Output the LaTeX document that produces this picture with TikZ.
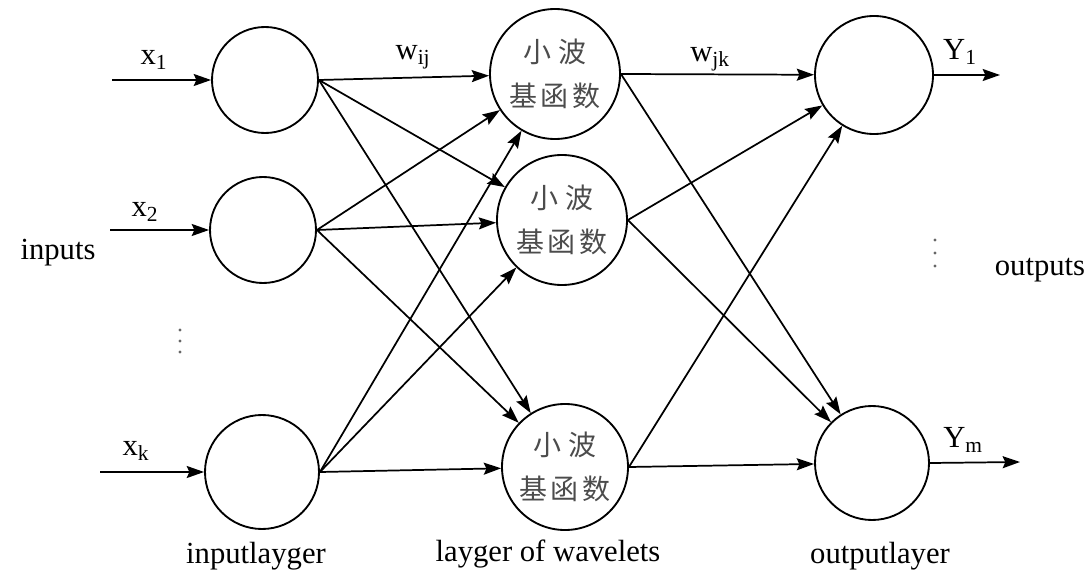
\documentclass[tikz,border=0pt]{standalone}
\usepackage{fontspec}
\setmainfont{Liberation Serif}
\newfontfamily\cjk{Noto Sans CJK SC}
\usetikzlibrary{arrows.meta}
\newcommand{\cj}[1]{#1\kern2.5pt}
\tikzset{
  neuron/.style={circle,draw=black,line width=1.4pt,inner sep=0pt,fill=white},
  conn/.style={line width=1.3pt,-{Stealth[length=13pt,width=9pt,inset=2pt]}},
  lbl/.style={inner sep=0pt,font=\fontsize{23}{27}\selectfont},
  wtxt/.style={align=center,font=\cjk\fontsize{21}{33}\selectfont,text=black!70},
  dot/.style={circle,fill=black!60,inner sep=0pt,minimum size=2.6pt}
}
\begin{document}
\begin{tikzpicture}[x=0.75pt,y=-0.75pt]
\fill[white] (0,0) rectangle (1092,581);
\useasboundingbox (0,0) rectangle (1092,581);
% input layer
\node[neuron,minimum size=79.5pt] (I1) at (265,80) {};
\node[neuron,minimum size=79.5pt] (I2) at (263,230) {};
\node[neuron,minimum size=85.5pt] (I3) at (262,472) {};
% wavelet layer
\node[neuron,minimum size=97.5pt,wtxt] (W1) at (555,74) {小\kern5pt 波\\基\kern3pt 函\kern3pt 数};
\node[neuron,minimum size=97.5pt,wtxt] (W2) at (562,220) {小\kern5pt 波\\基\kern3pt 函\kern3pt 数};
\node[neuron,minimum size=94.5pt,wtxt] (W3) at (565,467) {小\kern5pt 波\\基\kern3pt 函\kern3pt 数};
% output layer
\node[neuron,minimum size=88.5pt] (O1) at (874,75) {};
\node[neuron,minimum size=85.5pt] (O2) at (872,463) {};
% free ends
\coordinate (a1) at (112,80);
\coordinate (a2) at (110,230);
\coordinate (a3) at (100,472);
\coordinate (b1) at (1000,75);
\coordinate (b2) at (1020,462);
% input arrows
\draw[conn] (a1) -- (I1.west);
\draw[conn] (a2) -- (I2.west);
\draw[conn] (a3) -- (I3.west);
% input -> wavelets
\foreach \i in {I1,I2,I3}{
  \foreach \w in {W1,W2,W3}{
    \draw[conn] (\i.east) -- (\w);
  }
}
% wavelets -> outputs
\foreach \w in {W1,W2,W3}{
  \foreach \o in {O1,O2}{
    \draw[conn] (\w.east) -- (\o);
  }
}
% output arrows
\draw[conn] (O1.east) -- (b1);
\draw[conn] (O2.east) -- (b2);
% labels
\node[lbl] (lx1) at (154,60) {x\textsubscript{1}};
\node[lbl] (lx2) at (145,212) {x\textsubscript{2}};
\node[lbl] (lxk) at (136,451) {x\textsubscript{k}};
\node[lbl] (lwij) at (413,57) {w\textsubscript{ij}};
\node[lbl] (lwjk) at (710,59) {w\textsubscript{jk}};
\node[lbl] (lY1) at (960,52) {Y\textsubscript{1}};
\node[lbl] (lYm) at (963,440) {Y\textsubscript{m}};
\node[lbl] (inputs) at (58,253) {inputs};
\node[lbl] (outputs) at (1040,270) {outputs};
\node[lbl] (il) at (256,556) {inputlayger};
\node[lbl] (wl) at (548,554) {layger of wavelets};
\node[lbl] (ol) at (880,556) {outputlayer};
% dots
\foreach \y [count=\n] in {330,341,352}{ \node[dot] (di\n) at (180,\y) {}; }
\foreach \y [count=\n] in {240,253,266}{ \node[dot] (do\n) at (935,\y) {}; }
\end{tikzpicture}
\end{document}
